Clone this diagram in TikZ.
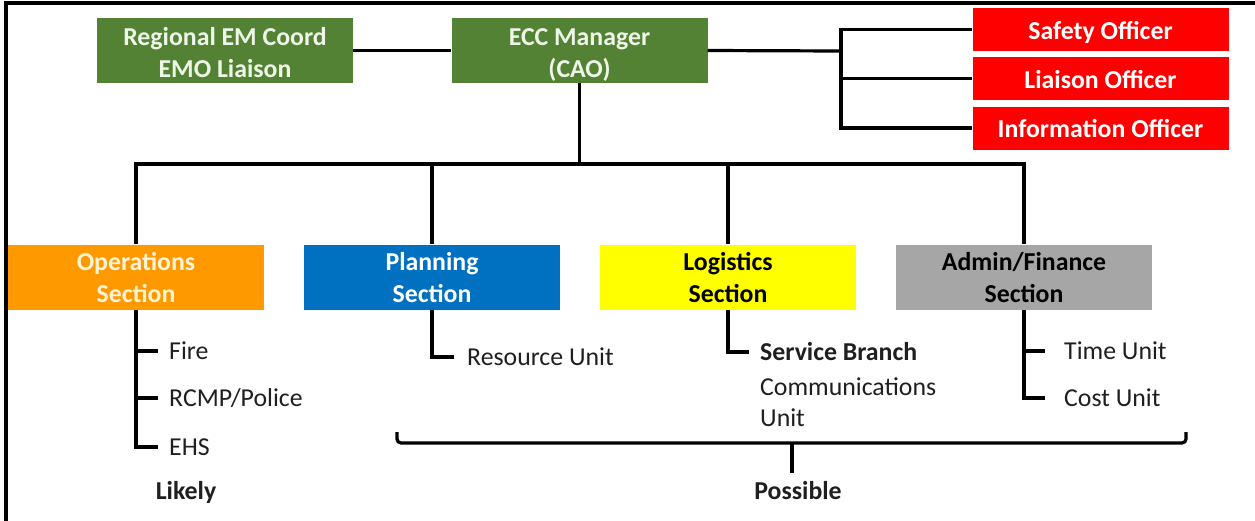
\documentclass[tikz,border=0pt]{standalone}
\usepackage{fontspec}
\setmainfont{Carlito}
\definecolor{emgreen}{HTML}{548235}
\definecolor{emgreentext}{HTML}{EEF6E8}
\definecolor{emred}{HTML}{FF0000}
\definecolor{emorange}{HTML}{FF9900}
\definecolor{emorangetext}{HTML}{FFF4D6}
\definecolor{emblue}{HTML}{0070C0}
\definecolor{emyellow}{HTML}{FFFF00}
\definecolor{emgray}{HTML}{A6A6A6}
\newcommand\twolines[3][0pt]{\raisebox{#1}[\height][\depth]{\begin{tabular}{@{}c@{}}#2\\#3\end{tabular}}}
\newcommand\oneline[2][0pt]{\raisebox{#1}[\height][\depth]{#2}}
\begin{document}
\begin{tikzpicture}[x=1pt,y=-1pt,
  lw/.style={line width=3.2pt},
  box/.style={minimum width=256pt, minimum height=65pt, inner sep=0pt, align=center,
    font=\fontsize{25.8}{32}\selectfont\bfseries},
  greenbox/.style={box, fill=emgreen, text=emgreentext},
  redbox/.style={box, minimum height=43pt, fill=emred, text=white},
  item/.style={anchor=west, inner sep=0pt, align=left, font=\fontsize{25.8}{31}\selectfont, text=black!88},
  label/.style={inner sep=0pt, font=\fontsize{25.8}{32}\selectfont\bfseries, text=black!88}
]
\useasboundingbox (0,0) rectangle (1255,520);
% frame
\draw[lw] (6,521) -- (6,3) -- (1256,3);

% top row
\node[greenbox] (reg) at (225,50.5) {\twolines[-5pt]{Regional EM Coord}{EMO Liaison}};
\node[greenbox] (ecc) at (579.5,50.5) {\twolines[-5pt]{ECC Manager}{(CAO)}};
\node[redbox] (saf) at (1100.5,29.5) {\oneline[-3pt]{Safety Officer}};
\node[redbox] (lia) at (1100.5,78.5) {\oneline[-1pt]{Liaison Officer}};
\node[redbox] (inf) at (1100.5,128) {\oneline[-1pt]{Information Officer}};

% sections
\node[box, fill=emorange, text=emorangetext] (ops) at (136,277) {\twolines[-3pt]{Operations}{Section}};
\node[box, fill=emblue, text=white] (plan) at (432,277) {\twolines[-3pt]{Planning}{Section}};
\node[box, fill=emyellow, text=black] (log) at (728,277) {\twolines[-3pt]{Logistics}{Section}};
\node[box, fill=emgray, text=black] (adm) at (1024,277) {\twolines[-3pt]{Admin/Finance}{Section}};

% items
\node[item] (fire) at (169,351) {Fire};
\node[item] (rcmp) at (169,398) {RCMP/Police};
\node[item] (ehs) at (169,447) {EHS};
\node[item] (res) at (467,357) {Resource Unit};
\node[item, font=\fontsize{25.8}{31}\selectfont\bfseries] (svc) at (760,352) {Service Branch};
\node[item] (comm) at (760,402.5) {Communications\\Unit};
\node[item] (time) at (1064,351) {Time Unit};
\node[item] (cost) at (1064,398) {Cost Unit};
\node[label] (likely) at (186,492) {Likely};
\node[label] (possible) at (798,491) {Possible};

% connectors top
\draw[lw] (reg.east) -- (ecc.west);
\coordinate (j) at (841,51);
\draw[lw] (ecc.east) -- (j);
\draw[lw] (j) |- (saf.west);
\draw[lw] (j) |- (lia.west);
\draw[lw] (j) |- (inf.west);

% bus
\coordinate (bus) at (579.5,164);
\draw[lw] (ecc.south) -- (bus);
\draw[lw] (ops.north) |- (bus) -| (adm.north);
\draw[lw] (plan.north) -- (plan.north |- bus);
\draw[lw] (log.north) -- (log.north |- bus);

% sub items
\draw[lw] (ops.south) |- ([xshift=-11pt]ehs.west);
\draw[lw] (ops.south |- fire.west) -- ([xshift=-11pt]fire.west);
\draw[lw] (ops.south |- rcmp.west) -- ([xshift=-11pt]rcmp.west);
\draw[lw] (plan.south) |- ([xshift=-13pt]res.west);
\draw[lw] (log.south) |- ([xshift=-11pt]svc.west);
\draw[lw] (adm.south) |- ([xshift=-19pt]cost.west);
\draw[lw] (adm.south |- time.west) -- ([xshift=-19pt]time.west);

% bracket
\coordinate (bl) at (397,432);
\coordinate (br) at (1186,432);
\coordinate (bm) at (792,443);
\coordinate (bs) at (792,473);
\draw[lw, rounded corners=4pt] (bl) |- (bm) -| (br);
\draw[lw] (bm) -- (bs);
\end{tikzpicture}
\end{document}
